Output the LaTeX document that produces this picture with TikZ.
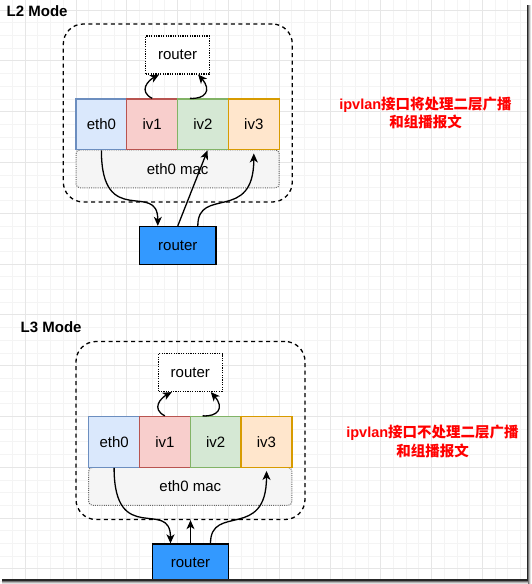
\documentclass[tikz,border=0pt]{standalone}
\usepackage{fontspec}
\setmainfont{Liberation Sans}
\newfontfamily\cjk{Noto Sans CJK SC}
\usetikzlibrary{arrows.meta}
\definecolor{ethfill}{HTML}{DAE8FC}\definecolor{ethdraw}{HTML}{6C8EBF}
\definecolor{ivafill}{HTML}{F8CECC}\definecolor{ivadraw}{HTML}{B85450}
\definecolor{ivbfill}{HTML}{D5E8D4}\definecolor{ivbdraw}{HTML}{82B366}
\definecolor{ivcfill}{HTML}{FFE6CC}\definecolor{ivcdraw}{HTML}{D79B00}
\definecolor{macfill}{HTML}{F5F5F5}\definecolor{macdraw}{HTML}{666666}
\definecolor{rtfill}{HTML}{3399FF}
\definecolor{gridminor}{HTML}{F4F4F4}\definecolor{gridmajor}{HTML}{E6E6E6}
\tikzset{
  lbl/.style={font=\fontsize{15}{18}\selectfont},
  port/.style={lbl, draw, line width=1.3pt, minimum width=50.8pt, minimum height=50.8pt, inner sep=0pt},
  macbox/.style={lbl, draw=macdraw, fill=macfill, line width=1pt, dash pattern=on 1pt off 1.2pt, rounded corners=4pt, minimum width=203.2pt, minimum height=38.1pt, inner sep=0pt},
  innerrouter/.style={lbl, draw=black, fill=white, line width=1.1pt, dash pattern=on 1.2pt off 1.2pt, minimum width=63.5pt, minimum height=38pt, inner sep=0pt},
  outerrouter/.style={lbl, draw=black, fill=rtfill, line width=1.5pt, minimum width=76.2pt, minimum height=38.1pt, inner sep=0pt},
  hostbox/.style={draw=black, line width=1.3pt, dash pattern=on 4pt off 3.5pt, rounded corners=20pt, minimum width=229pt, minimum height=178pt, inner sep=0pt},
  arr/.style={-{Stealth[length=9pt,width=8pt,inset=2.5pt]}, line width=1.3pt},
  title/.style={font=\fontsize{15}{18}\selectfont\bfseries, anchor=west, inner sep=0pt},
  note/.style={text=red, align=center, font=\fontsize{14.5}{18.5}\selectfont\bfseries, inner sep=0pt},
  gminor/.style={draw=gridminor, line width=1pt},
  gmajor/.style={draw=gridmajor, line width=1pt}
}
\newcommand\ipvblock[1]{%
  \node[hostbox] (#1o) at (177.8,113) {};
  \node[innerrouter] (#1tr) at (177.6,55) {router};
  \node[macbox] (#1mac) at (177.6,168.85) {eth0 mac};
  \node[port, draw=ethdraw, fill=ethfill] (#1eth) at (101.4,124.4) {eth0};
  \node[port, draw=ivadraw, fill=ivafill] (#1iva) at (152.2,124.4) {iv1};
  \node[port, draw=ivbdraw, fill=ivbfill] (#1ivb) at (203,124.4) {iv2};
  \node[port, draw=ivcdraw, fill=ivcfill] (#1ivc) at (253.8,124.4) {iv3};
  \node[outerrouter] (#1r) at (177.8,245.65) {router};
  \draw[arr] (#1eth.south) .. controls +(0,80) and +(0,-46) .. ([xshift=-20pt]#1r.north);
  \draw[arr] ([xshift=20pt]#1r.north) .. controls +(0,-40) and +(0,70) .. ([yshift=-3pt]#1ivc.south);
  \draw[arr] (#1iva.north) .. controls +(-14,-7) and +(-11,6) .. ([xshift=-18.5pt]#1tr.south);
  \draw[arr] ([xshift=-13pt]#1ivb.north) .. controls +(15,1) and +(14,16) .. ([xshift=20.5pt]#1tr.south);
}
\begin{document}
\begin{tikzpicture}[x=1pt,y=-1pt]
\useasboundingbox (0,0) rectangle (531,584);
\fill[white] (0,0) rectangle (531,584);
% grid
\foreach \i in {0,...,42} {\draw[gminor] ({-0.2+12.7*\i},0) -- ({-0.2+12.7*\i},584);}
\foreach \j in {0,...,46} {\draw[gminor] (0,{-2.6+12.7*\j}) -- (531,{-2.6+12.7*\j});}
\foreach \i in {0,...,10} {\draw[gmajor] ({25.2+50.8*\i},0) -- ({25.2+50.8*\i},584);}
\foreach \j in {0,...,11} {\draw[gmajor] (0,{10.1+50.8*\j}) -- (531,{10.1+50.8*\j});}
% L2
\node[title] (ttwo) at (6.5,11) {L2 Mode};
\begin{scope}
  \ipvblock{L2}
  \draw[arr] (L2r.north) -- ([xshift=4.5pt]L2ivb.south);
\end{scope}
\node[note] (ntwo) at (425.5,113) {ipvlan{\cjk 接口将处理二层广播}\\{\cjk 和组播报文}};
% L3
\node[title] (tthree) at (20.5,327.5) {L3 Mode};
\begin{scope}[shift={(12.7,317.5)}]
  \ipvblock{L3}
  \draw[arr] (L3r.north) -- (L3o.south);
\end{scope}
\node[note] (nthree) at (432.5,441.5) {ipvlan{\cjk 接口不处理二层广播}\\{\cjk 和组播报文}};
% frame shadow
\fill[black!85] (526.8,5) rectangle (528,584);
\fill[black!55] (528,5) rectangle (529.2,584);
\fill[black!30] (529.2,5) rectangle (530.2,584);
\fill[black!12] (530.2,5) rectangle (531,584);
\fill[black!85] (2,579.3) rectangle (528,580.5);
\fill[black!55] (2,580.5) rectangle (528,581.7);
\fill[black!30] (2,581.7) rectangle (528,582.8);
\fill[black!12] (2,582.8) rectangle (528,584);
\end{tikzpicture}
\end{document}
